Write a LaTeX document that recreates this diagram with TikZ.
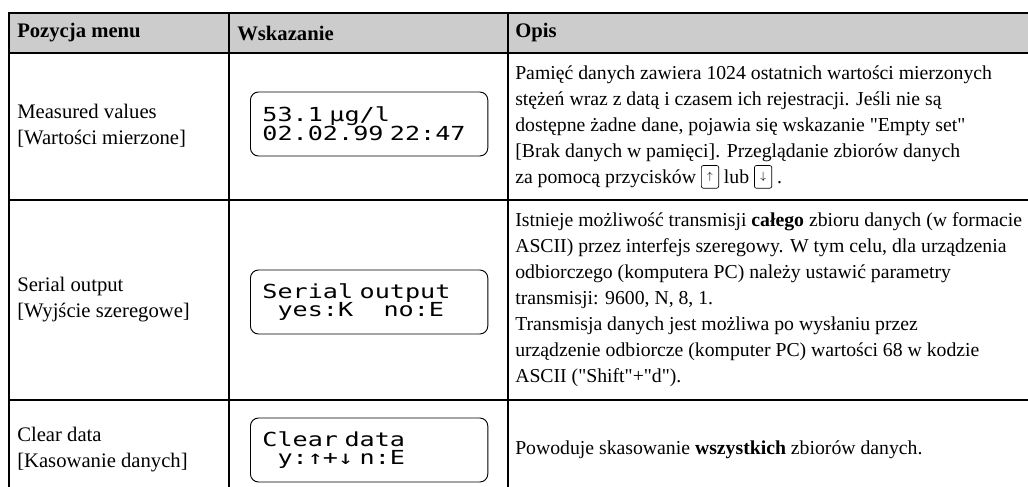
\documentclass[tikz,border=0pt]{standalone}
\usepackage{fontspec}
\setmainfont{Liberation Serif}[Ligatures=TeXOff]
\newfontfamily\lcdfont[FakeStretch=1.3]{DejaVu Sans Mono}
\usetikzlibrary{positioning}

\newcommand{\keybtn}[1]{\tikz[baseline={([yshift=4pt]kb.south)}]\node (kb) [draw, rounded corners=1.5pt, line width=0.5pt, minimum width=13pt, minimum height=17pt, inner sep=0pt] {\footnotesize$#1$};}
\newcommand{\lcdsp}{\phantom{0}}

\begin{document}
\begin{tikzpicture}[x=0.75pt, y=-0.75pt,
    txt/.style={anchor=west, align=left, inner sep=0pt, font=\fontsize{15.5}{19.5}\selectfont},
    desc/.style={txt, font=\fontsize{14.8}{19.5}\selectfont},
    head/.style={txt, font=\fontsize{15.5}{19.5}\selectfont\bfseries},
    lcd/.style={draw, anchor=west, rounded corners=6pt, line width=0.7pt, minimum height=48pt, inner xsep=9pt, text width=160pt, align=left, font=\lcdfont\fontsize{14.5}{14}\selectfont},
    rule/.style={line width=1.1pt}]
    \useasboundingbox (0,0) rectangle (1028,486);
    \clip (0,0) rectangle (1028,486);

    \fill[black!20] (9,13) rectangle (1040,53);
    \draw[rule] (1040,13) -- (9,13) -- (9,500);
    \draw[rule] (9,53) -- (1040,53);
    \draw[rule] (9,200) -- (1040,200);
    \draw[rule] (9,400) -- (1040,400);
    \draw[rule] (229,13) -- (229,500);
    \draw[rule] (508,13) -- (508,500);

    \node[head] (h1) at (17,33) {Pozycja menu};
    \node[head] (h2) at (237,33) {Wskazanie};
    \node[head] (h3) at (515,33) {Opis};

    \node[txt] (m1) at (17,126) {Measured values\\{}[Wartości mierzone]};
    \node[lcd] (d1) at (250,124) {53.1 µg/l\\02.02.99 22:47};
    \node[desc] (o1) at (515,127) {Pamięć danych zawiera 1024 ostatnich wartości mierzonych\\
        stężeń wraz z datą i czasem ich rejestracji. Jeśli nie są\\
        dostępne żadne dane, pojawia się wskazanie "Empty set"\\
        {}[Brak danych w pamięci]. Przeglądanie zbiorów danych\\
        za pomocą przycisków \keybtn{\uparrow} lub \keybtn{\downarrow} .};

    \node[txt] (m2) at (17,300) {Serial output\\{}[Wyjście szeregowe]};
    \node[lcd] (d2) at (250,302) {Serial output\\\lcdsp yes:K\lcdsp\lcdsp no:E};
    \node[desc] (o2) at (515,300) {Istnieje możliwość transmisji \textbf{całego} zbioru danych (w formacie\\
        ASCII) przez interfejs szeregowy. W tym celu, dla urządzenia\\
        odbiorczego (komputera PC) należy ustawić parametry\\
        transmisji: 9600, N, 8, 1.\\
        Transmisja danych jest możliwa po wysłaniu przez\\
        urządzenie odbiorcze (komputer PC) wartości 68 w kodzie\\
        ASCII ("Shift"+"d").};

    \node[txt] (m3) at (17,450) {Clear data\\{}[Kasowanie danych]};
    \node[lcd] (d3) at (250,450) {Clear data\\\lcdsp y:↑+↓ n:E};
    \node[desc] (o3) at (515,450) {Powoduje skasowanie \textbf{wszystkich} zbiorów danych.};
\end{tikzpicture}
\end{document}
